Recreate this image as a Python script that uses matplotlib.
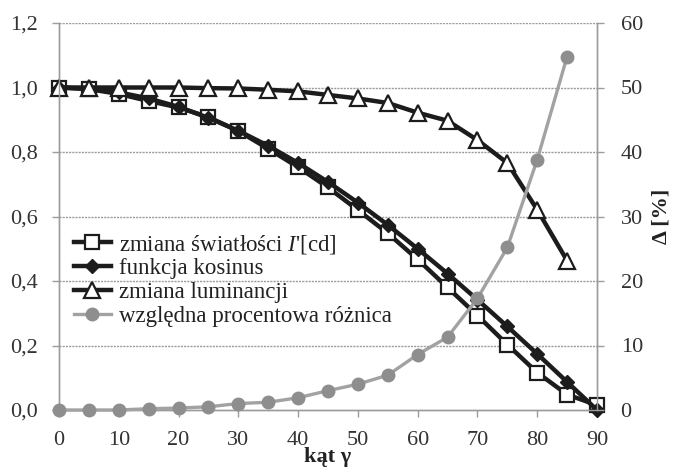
import numpy as np
import matplotlib
matplotlib.use("Agg")
import matplotlib.pyplot as plt
from matplotlib.lines import Line2D

plt.rcParams['font.family'] = ['Liberation Serif', 'DejaVu Serif']
plt.rcParams['mathtext.fontset'] = 'custom'
plt.rcParams['mathtext.it'] = 'Liberation Serif:italic'
plt.rcParams['mathtext.rm'] = 'Liberation Serif'

# angle of observation [deg]
kat = [0, 5, 10, 15, 20, 25, 30, 35, 40, 45, 50, 55, 60, 65, 70, 75, 80, 85, 90]

swiatlosc = [1.0, 0.995, 0.98, 0.958, 0.938, 0.908, 0.865, 0.81, 0.753, 0.69,
             0.62, 0.548, 0.467, 0.38, 0.293, 0.203, 0.116, 0.048, 0.015]
kosinus = [1.0, 0.996, 0.985, 0.966, 0.94, 0.906, 0.866, 0.819, 0.766, 0.707,
           0.643, 0.574, 0.5, 0.423, 0.342, 0.259, 0.174, 0.087, 0.0]
luminancja = [1.0, 1.0, 1.0, 1.0, 1.0, 0.998, 0.997, 0.993, 0.988, 0.977,
              0.966, 0.952, 0.922, 0.897, 0.837, 0.766, 0.621, 0.463]
roznica = [0.0, 0.0, 0.0, 0.2, 0.3, 0.5, 1.0, 1.2, 1.9, 3.0,
           4.0, 5.4, 8.6, 11.3, 17.3, 25.2, 38.8, 54.8]

left_ticks = [0, 0.2, 0.4, 0.6, 0.8, 1.0, 1.2]
left_labels = ['0,0', '0,2', '0,4', '0,6', '0,8', '1,0', '1,2']
right_ticks = [0, 10, 20, 30, 40, 50, 60]
x_ticks = [0, 10, 20, 30, 40, 50, 60, 70, 80, 90]

black = '#1c1c1c'
grey = '#a2a2a2'
dot_grey = '#8e8e8e'
axis_grey = '#9b9b9b'

fig = plt.figure(figsize=(6.74, 4.72), dpi=100)
ax = fig.add_axes([59 / 674, 1 - 410 / 472, 538 / 674, 387 / 472])
ax2 = ax.twinx()

ax.set_xlim(0, 90)
ax.set_ylim(0, 1.2)
ax2.set_ylim(0, 60)

for y in left_ticks[1:]:
    ax.axhline(y, color=axis_grey, lw=1.0, ls=(0, (1.5, 0.8)), zorder=0)

ax.plot(kat, swiatlosc, color=black, lw=3.2, marker='s', ms=10.5,
        mfc='white', mec=black, mew=1.6, clip_on=False, zorder=3)
ax.plot(kat, kosinus, color=black, lw=3.2, marker='D', ms=7.5,
        mfc=black, mec=black, clip_on=False, zorder=4)
ax.plot(kat[:len(luminancja)], luminancja, color=black, lw=3.2, marker='^',
        ms=11, mfc='white', mec=black, mew=1.6, clip_on=False, zorder=5)
ax2.plot(kat[:len(roznica)], roznica, color=grey, lw=2.4, marker='o', ms=9,
         mfc=dot_grey, mec=dot_grey, clip_on=False, zorder=3)

for a in (ax, ax2):
    a.spines['top'].set_visible(False)
    for s in ('left', 'right', 'bottom'):
        a.spines[s].set_color(axis_grey)
        a.spines[s].set_linewidth(1.0)

ax.set_xticks(x_ticks)
ax.set_yticks(left_ticks)
ax.set_yticklabels(left_labels)
ax2.set_yticks(right_ticks)
ax.tick_params(axis='both', labelsize=16, colors='#333333', length=5,
               width=1.0, color=axis_grey, direction='out')
ax.tick_params(axis='y', pad=10)
ax.tick_params(axis='x', pad=10)
ax2.tick_params(axis='y', labelsize=16, colors='#333333', length=5,
                width=1.0, color=axis_grey, direction='out', pad=12)

ax.set_xlabel('kąt γ', fontsize=16, fontweight='bold', color='#222222', labelpad=-2)
ax2.set_ylabel('Δ [%]', fontsize=16, fontweight='bold', color='#222222', labelpad=6)

handles = [
    Line2D([], [], color=black, lw=3.2, marker='s', ms=10.5, mfc='white', mec=black, mew=1.6),
    Line2D([], [], color=black, lw=3.2, marker='D', ms=7.5, mfc=black, mec=black),
    Line2D([], [], color=black, lw=3.2, marker='^', ms=11, mfc='white', mec=black, mew=1.6),
    Line2D([], [], color=grey, lw=2.4, marker='o', ms=9, mfc=dot_grey, mec=dot_grey),
]
labels = ["zmiana światłości $I$'[cd]", 'funkcja kosinus', 'zmiana luminancji',
          'względna procentowa różnica']
leg = ax2.legend(handles, labels, loc='upper left', bbox_to_anchor=(-0.002, 0.5),
                 frameon=False, fontsize=16.5, handlelength=1.6, handletextpad=0.35,
                 labelspacing=0.12, borderpad=0.2)
for t in leg.get_texts():
    t.set_color('#222222')

fig.savefig('out.png', dpi=100)
